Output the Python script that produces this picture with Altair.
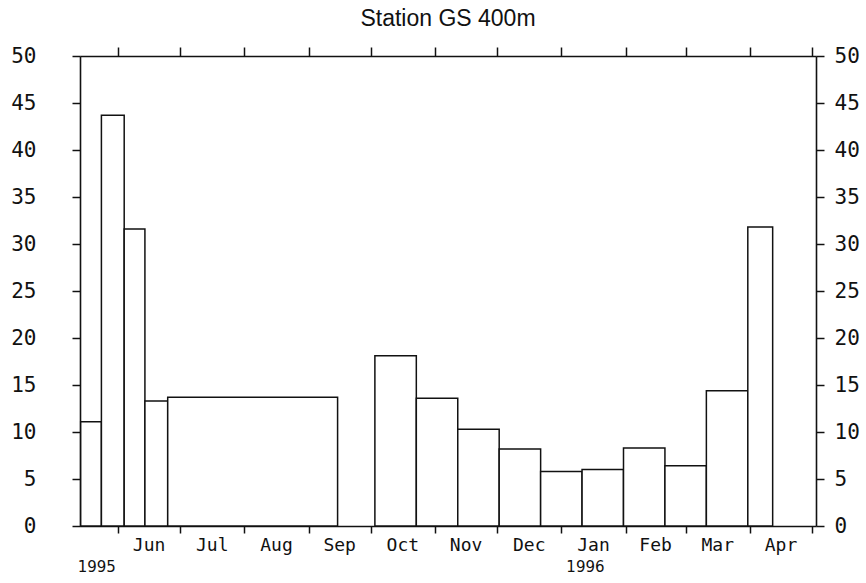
import altair as alt
import pandas as pd

title_text = "Station GS 400m"

# sampling intervals (start / end) and flux values
start_dates = ["1995-05-14", "1995-05-24", "1995-06-04", "1995-06-14", "1995-06-25",
               "1995-10-03", "1995-10-23", "1995-11-12", "1995-12-02", "1995-12-22",
               "1996-01-11", "1996-01-31", "1996-02-20", "1996-03-11", "1996-03-31"]
end_dates = ["1995-05-24", "1995-06-04", "1995-06-14", "1995-06-25", "1995-09-15",
             "1995-10-23", "1995-11-12", "1995-12-02", "1995-12-22", "1996-01-11",
             "1996-01-31", "1996-02-20", "1996-03-11", "1996-03-31", "1996-04-12"]
flux = [11.1, 43.7, 31.6, 13.3, 13.7,
        18.1, 13.6, 10.3, 8.2, 5.8,
        6.0, 8.3, 6.4, 14.4, 31.8]

month_starts = ["1995-06-01", "1995-07-01", "1995-08-01", "1995-09-01", "1995-10-01",
                "1995-11-01", "1995-12-01", "1996-01-01", "1996-02-01", "1996-03-01",
                "1996-04-01", "1996-05-01"]
month_labels = ["Jun", "Jul", "Aug", "Sep", "Oct", "Nov", "Dec", "Jan", "Feb", "Mar", "Apr"]

year_labels = ["1995", "1996"]
year_dates = ["1995-05-14", "1996-01-01"]

y_ticks = [0, 5, 10, 15, 20, 25, 30, 35, 40, 45, 50]
domain_start = "1995-05-13 16:00"
domain_end = "1996-05-02 22:00"


def ms(s):
    return int(pd.Timestamp(s).tz_localize("UTC").value // 10**6)


bars_df = pd.DataFrame({
    "start": [ms(s) for s in start_dates],
    "end": [ms(s) for s in end_dates],
    "flux": flux,
})
tick_ms = [ms(s) for s in month_starts]
month_df = pd.DataFrame({
    "mid": [(tick_ms[i] + tick_ms[i + 1]) / 2 for i in range(len(month_labels))],
    "label": month_labels,
})
year_df = pd.DataFrame({"date": [ms(s) for s in year_dates], "label": year_labels})

INK = "#111111"
W, H = 736, 470

xscale = alt.Scale(type="utc", domain=[ms(domain_start), ms(domain_end)])
yscale = alt.Scale(domain=[0, 50], nice=False, zero=True)

common_axis = dict(domainColor=INK, domainWidth=1.6, tickColor=INK, tickWidth=1.5,
                   grid=False, labelColor=INK)

bars = alt.Chart(bars_df).mark_rect(fill="white", stroke=INK, strokeWidth=1.5).encode(
    x=alt.X("start:T", scale=xscale, title=None,
            axis=alt.Axis(orient="bottom", values=tick_ms, labels=False, tickSize=7,
                          **common_axis)),
    x2="end:T",
    y=alt.Y("flux:Q", scale=yscale, title=None,
            axis=alt.Axis(orient="left", values=y_ticks, tickSize=8, labelPadding=36,
                          labelFont="DejaVu Sans Mono", labelFontSize=21,
                          **common_axis)),
    y2=alt.datum(0),
)

frame = alt.Chart(bars_df).mark_point(opacity=0).encode(
    x=alt.X("start:T", scale=xscale, title=None,
            axis=alt.Axis(orient="top", values=tick_ms, labels=False, tickSize=9,
                          **common_axis)),
    y=alt.Y("flux:Q", scale=yscale, title=None,
            axis=alt.Axis(orient="right", values=y_ticks, tickSize=8, labelPadding=10,
                          labelFont="DejaVu Sans Mono", labelFontSize=21,
                          **common_axis)),
)

months = alt.Chart(month_df).mark_text(
    font="DejaVu Sans Mono", fontSize=18, baseline="middle", align="center", color=INK
).encode(
    x=alt.X("mid:T", scale=xscale, axis=None),
    y=alt.value(H + 20),
    text="label:N",
)

year1 = alt.Chart(year_df.iloc[[0]]).mark_text(
    font="DejaVu Sans", fontSize=15, baseline="middle", align="left", color=INK, dx=-3
).encode(
    x=alt.X("date:T", scale=xscale, axis=None),
    y=alt.value(H + 41),
    text="label:N",
)
year2 = alt.Chart(year_df.iloc[[1]]).mark_text(
    font="DejaVu Sans", fontSize=15, baseline="middle", align="left", color=INK, dx=5
).encode(
    x=alt.X("date:T", scale=xscale, axis=None),
    y=alt.value(H + 41),
    text="label:N",
)

chart = alt.layer(bars, frame, months, year1, year2).resolve_axis(
    x="independent", y="independent"
).properties(
    width=W,
    height=H,
    title=alt.TitleParams(title_text, font="Liberation Sans", fontSize=23,
                          fontWeight="normal", anchor="middle", color=INK, offset=14),
    padding={"left": 80, "top": 56, "right": 50, "bottom": 57},
    autosize="none",
).configure_view(stroke=INK, strokeWidth=1.6).configure(background="white")

chart.save("out.html", embed_options={"renderer": "svg", "actions": False})
